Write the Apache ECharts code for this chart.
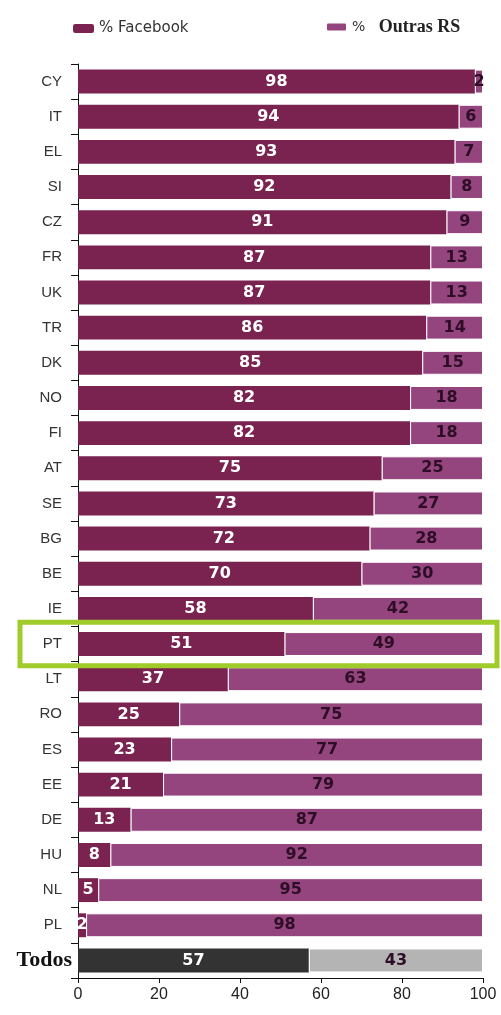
<!DOCTYPE html>
<html lang="pt">
<head>
    <meta charset="UTF-8">
    <title>Facebook vs Outras RS</title>
    <script src="https://cdn.jsdelivr.net/npm/echarts@6/dist/echarts.min.js"></script>
    <style>
        html, body { margin: 0; padding: 0; background: #fff; }
        #main { width: 501px; height: 1015px; }
    </style>
</head>
<body>
<div id="main"></div>
<script type="text/javascript">
    // dados
    var paises = ['CY','IT','EL','SI','CZ','FR','UK','TR','DK','NO','FI','AT','SE','BG','BE','IE','PT','LT','RO','ES','EE','DE','HU','NL','PL','Todos'];
    var facebook = [98,94,93,92,91,87,87,86,85,82,82,75,73,72,70,58,51,37,25,23,21,13,8,5,2,57];
    var outras = [2,6,7,8,9,13,13,14,15,18,18,25,27,28,30,42,49,63,75,77,79,87,92,95,98,43];
    var xTicks = [0,20,40,60,80,100];
    var destaque = 'PT';

    var corFb = '#7a2350';
    var corOutras = '#94457e';
    var corTodosFb = '#333333';
    var corTodosOutras = '#b4b4b4';

    var myChart = echarts.init(document.getElementById('main'));

    // a última linha (Todos) tem cores cinzentas
    function dadosSerie(valores, cor, corTodos) {
        return valores.map(function (v, i) {
            if (paises[i] === 'Todos') {
                return { value: v, itemStyle: { color: corTodos } };
            }
            return { value: v, itemStyle: { color: cor } };
        });
    }

    var option = {
        animation: false,
        textStyle: { fontFamily: 'Liberation Sans, Arial, sans-serif' },
        legend: [
            {
                data: ['% Facebook'],
                left: 68, top: 16,
                itemWidth: 21, itemHeight: 9,
                itemGap: 6,
                textStyle: { fontSize: 15, color: '#333', fontFamily: 'DejaVu Sans, sans-serif' }
            },
            {
                data: ['% Outras RS'],
                left: 320, top: 13,
                itemWidth: 21, itemHeight: 9,
                formatter: function () { return '{a|%   }{b|Outras RS}'; },
                textStyle: {
                    rich: {
                        a: { fontSize: 14, color: '#333', fontFamily: 'DejaVu Sans, sans-serif' },
                        b: { fontSize: 18, color: '#222', fontWeight: 'bold', fontFamily: 'Liberation Serif, Times New Roman, serif' }
                    }
                }
            }
        ],
        grid: { left: 78, right: 18, top: 64, bottom: 37 },
        xAxis: {
            type: 'value',
            min: 0, max: 100, interval: 20,
            axisLine: { show: true, lineStyle: { color: '#111' } },
            axisTick: { show: true, length: 5, lineStyle: { color: '#111' } },
            splitLine: { show: false },
            axisLabel: {
                fontSize: 16, color: '#222', margin: 9,
                formatter: function (v) { return xTicks.indexOf(v) >= 0 ? String(v) : ''; }
            }
        },
        yAxis: {
            type: 'category',
            data: paises,
            inverse: true,
            axisLine: { show: true, lineStyle: { color: '#111' } },
            axisTick: { show: true, length: 7, interval: 0, lineStyle: { color: '#111' } },
            axisLabel: {
                margin: 16,
                fontSize: 15,
                color: '#333',
                formatter: function (v) { return v === 'Todos' ? '{t|' + v + '}' : v; },
                rich: {
                    t: { fontSize: 22, fontWeight: 'bold', color: '#111', padding: [0, -10, 0, 0], fontFamily: 'Liberation Serif, Times New Roman, serif' }
                }
            }
        },
        series: [
            {
                name: '% Facebook',
                type: 'bar',
                stack: 'total',
                barCategoryGap: '32%',
                data: dadosSerie(facebook, corFb, corTodosFb),
                itemStyle: { color: corFb },
                label: {
                    show: true, position: 'inside',
                    color: '#fff', fontWeight: 'bold', fontSize: 16,
                    fontFamily: 'DejaVu Sans, sans-serif'
                }
            },
            {
                name: '% Outras RS',
                type: 'bar',
                stack: 'total',
                barCategoryGap: '32%',
                data: dadosSerie(outras, corOutras, corTodosOutras),
                itemStyle: { color: corOutras, borderColor: '#fff', borderWidth: 1 },
                label: {
                    show: true, position: 'inside',
                    color: '#2e0d26', fontWeight: 'bold', fontSize: 16,
                    fontFamily: 'DejaVu Sans, sans-serif'
                }
            }
        ]
    };

    myChart.setOption(option);

    // caixa verde à volta da linha de Portugal
    var yPt = myChart.convertToPixel({ yAxisIndex: 0 }, destaque);
    var passo = (myChart.getHeight() - 64 - 37) / paises.length;
    myChart.setOption({
        graphic: [{
            type: 'rect',
            shape: { x: 20, y: yPt - passo * 0.62, width: 477, height: passo * 1.24 },
            style: { fill: 'none', stroke: '#9fcb2b', lineWidth: 5 },
            z: 100
        }]
    });
</script>
</body>
</html>
